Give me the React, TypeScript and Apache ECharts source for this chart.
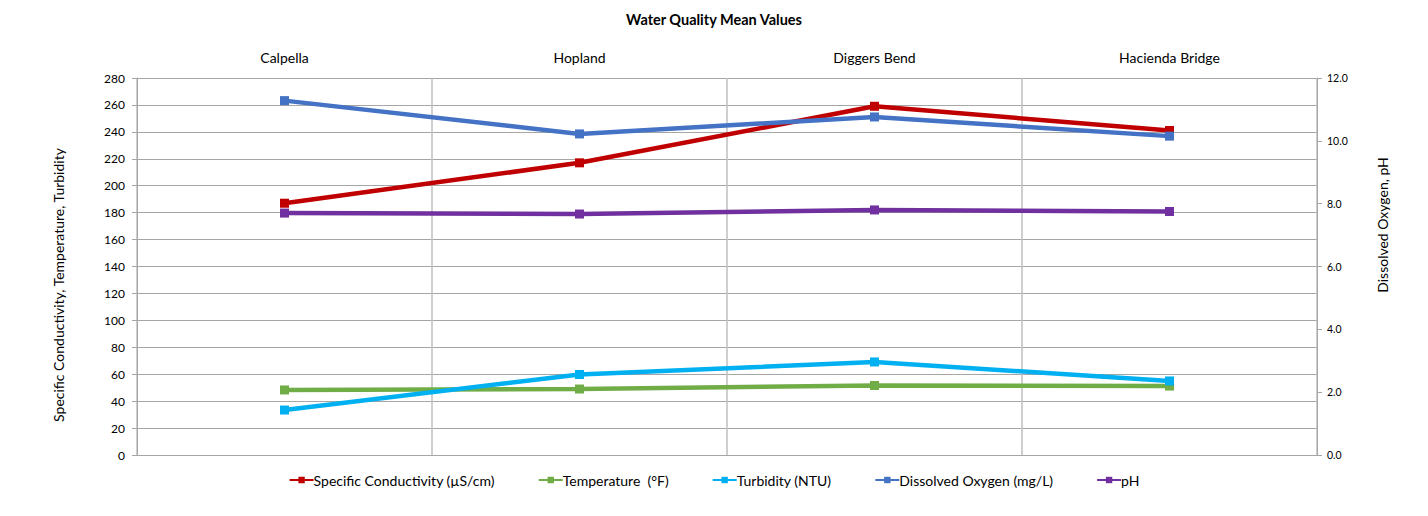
import React, { useEffect, useRef } from "react";
import * as echarts from "echarts";

const categories = ["Calpella", "Hopland", "Diggers Bend", "Hacienda Bridge"];
const conductivity = [187, 217, 259, 241];
const temperature = [48.3, 49, 51.6, 51.2];
const turbidity = [33.4, 59.8, 69.1, 55];
const dissolvedOxygen = [11.28, 10.22, 10.76, 10.15];
const ph = [7.7, 7.67, 7.8, 7.75];
const seriesNames = [
  "Specific Conductivity (µS/cm)",
  "Temperature  (°F)",
  "Turbidity (NTU)",
  "Dissolved Oxygen (mg/L)",
  "pH",
];

const FONT = "Lato, 'Open Sans', sans-serif";

export default function App() {
  const ref = useRef<HTMLDivElement>(null);
  useEffect(() => {
    if (!ref.current) return;
    const chart = echarts.init(ref.current, undefined, { renderer: "svg" });
    const mk = (name: string, data: number[], color: string, yAxisIndex: number) => ({
      name,
      type: "line",
      data,
      yAxisIndex,
      symbol: "rect",
      symbolSize: 9,
      itemStyle: { color },
      lineStyle: { color, width: 4.5 },
      emphasis: { disabled: true },
    });
    const borderStyle = { fill: "#404040" };
    chart.setOption({
      animation: false,
      textStyle: { fontFamily: FONT },
      title: {
        text: "Water Quality Mean Values",
        left: "center",
        top: 7,
        textStyle: { fontFamily: FONT, fontSize: 14.5, fontWeight: "bold", color: "#000" },
      },
      graphic: [
        { type: "rect", z: 100, silent: true, shape: { x: 5, y: 3, width: 1420, height: 1 }, style: borderStyle },
        { type: "rect", z: 100, silent: true, shape: { x: 5, y: 3, width: 1, height: 513 }, style: borderStyle },
        { type: "rect", z: 100, silent: true, shape: { x: 1423, y: 3, width: 1, height: 513 }, style: borderStyle },
        {
          type: "text",
          x: 58,
          y: 285,
          rotation: Math.PI / 2,
          silent: true,
          style: {
            text: "Specific Conductivity, Temperature, Turbidity",
            fontFamily: FONT,
            fontSize: 14,
            fill: "#000",
            align: "center",
            verticalAlign: "middle",
          },
        },
        {
          type: "text",
          x: 1382,
          y: 225,
          rotation: Math.PI / 2,
          silent: true,
          style: {
            text: "Dissolved Oxygen, pH",
            fontFamily: FONT,
            fontSize: 14,
            fill: "#000",
            align: "center",
            verticalAlign: "middle",
          },
        },
      ],
      legend: {
        bottom: 24,
        left: "center",
        itemGap: 43,
        itemWidth: 24,
        itemHeight: 8,
        textStyle: { fontFamily: FONT, fontSize: 14, color: "#000", padding: [0, 0, 0, -5] },
        data: seriesNames,
      },
      grid: { left: 137, right: 111, top: 78, bottom: 61 },
      xAxis: {
        type: "category",
        position: "top",
        data: categories,
        boundaryGap: true,
        axisLine: { show: false },
        axisTick: { show: false },
        axisLabel: { margin: 14, fontSize: 14, color: "#000", fontFamily: FONT },
        splitLine: { show: true, lineStyle: { color: "#bfbfbf", width: 1.5 } },
      },
      yAxis: [
        {
          type: "value",
          min: 0,
          max: 280,
          interval: 20,
          axisLine: { show: true, lineStyle: { color: "#a6a6a6" } },
          axisTick: { show: true, length: 5, lineStyle: { color: "#a6a6a6" } },
          axisLabel: { margin: 12, fontSize: 12, color: "#000", fontFamily: FONT },
          splitLine: { show: true, lineStyle: { color: "#a6a6a6", width: 1.2 } },
        },
        {
          type: "value",
          min: 0,
          max: 12,
          interval: 2,
          position: "right",
          axisLine: { show: true, lineStyle: { color: "#a6a6a6" } },
          axisTick: { show: true, length: 5, lineStyle: { color: "#a6a6a6" } },
          axisLabel: {
            margin: 10,
            fontSize: 10.5,
            color: "#000",
            fontFamily: FONT,
            formatter: (v: number) => v.toFixed(1),
          },
          splitLine: { show: false },
        },
      ],
      series: [
        mk(seriesNames[0], conductivity, "#C00000", 0),
        mk(seriesNames[1], temperature, "#70AD47", 0),
        mk(seriesNames[2], turbidity, "#00B0F0", 0),
        mk(seriesNames[3], dissolvedOxygen, "#4472C4", 1),
        mk(seriesNames[4], ph, "#7030A0", 1),
      ],
    });
    return () => chart.dispose();
  }, []);
  return (
    <div style={{ position: "relative", width: 1428, height: 516, margin: -8, background: "#fff", overflow: "hidden" }}>
      <div ref={ref} style={{ position: "absolute", left: 0, top: 0, width: 1428, height: 516 }} />
    </div>
  );
}
